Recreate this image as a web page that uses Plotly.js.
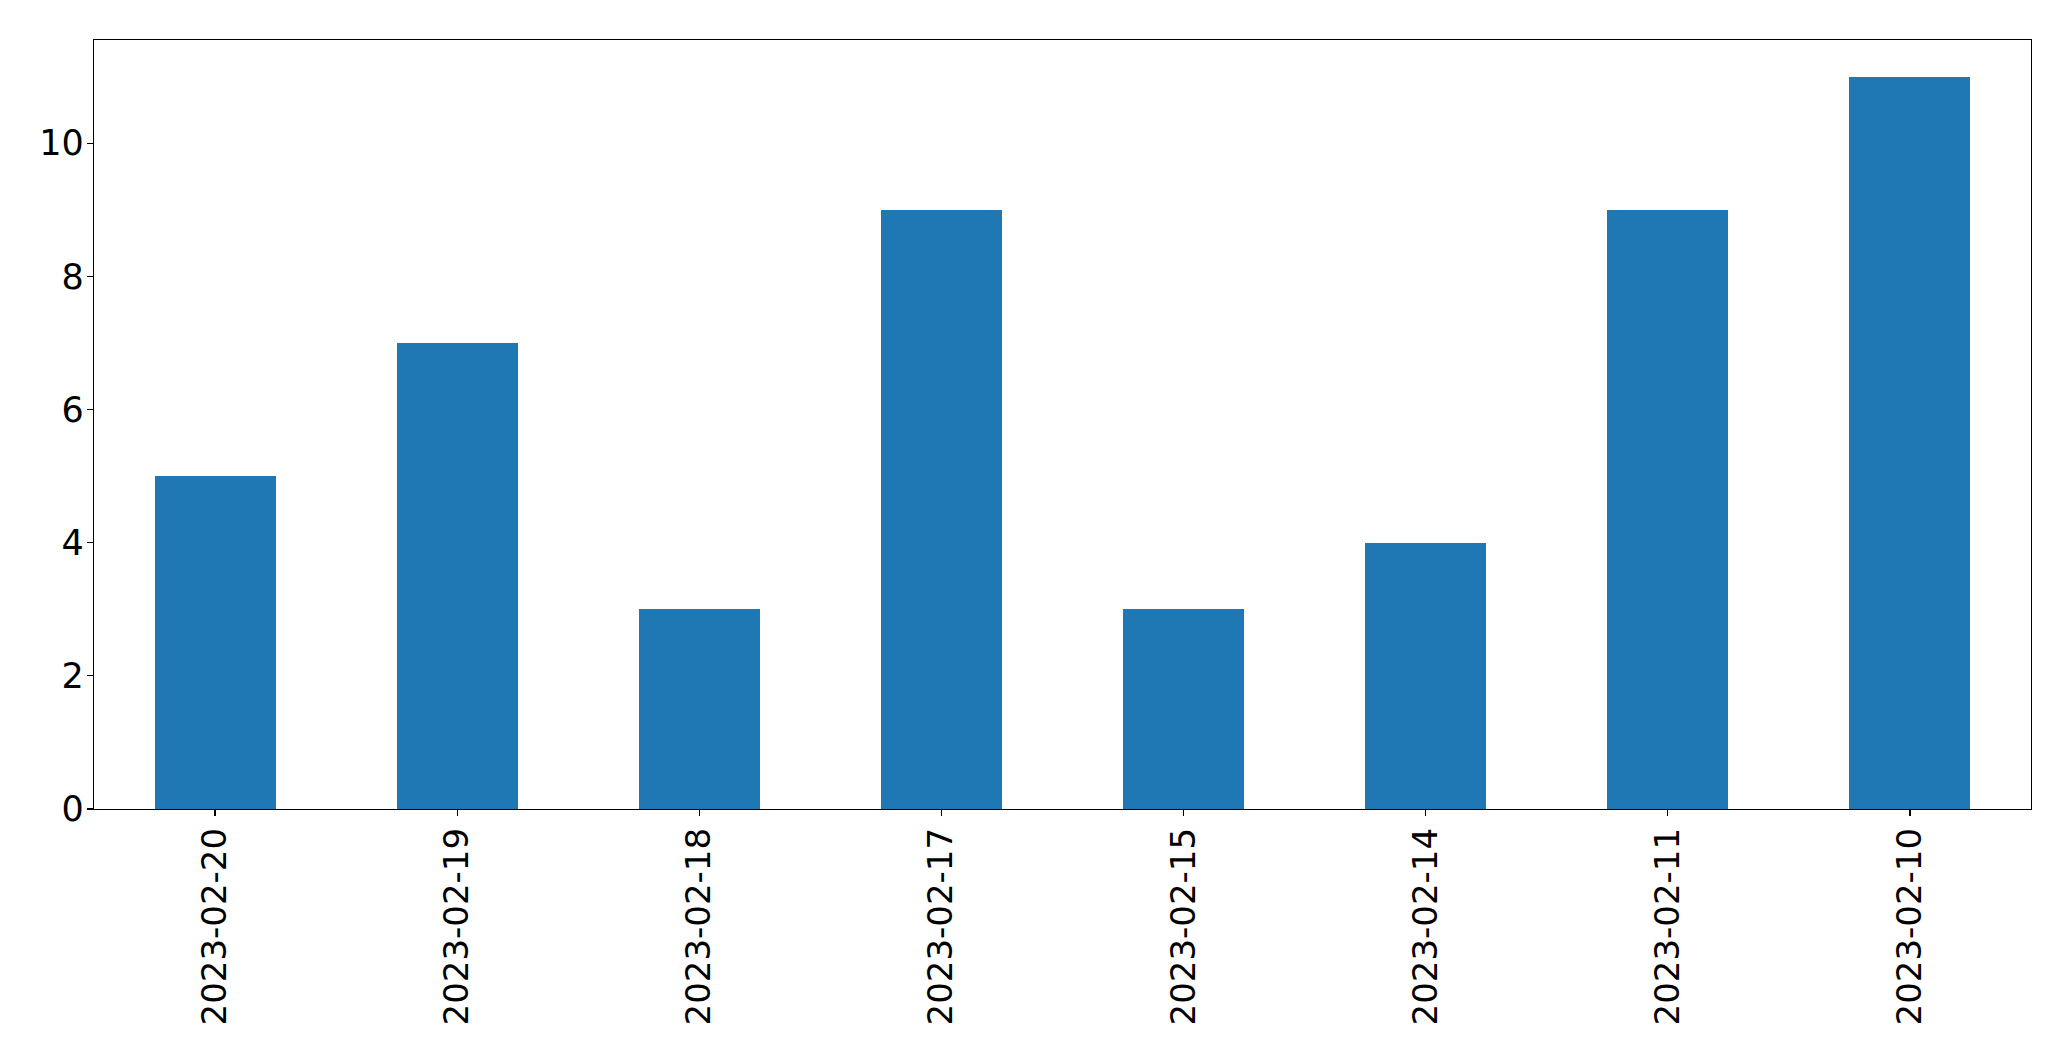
<!DOCTYPE html>
<html>
<head>
<meta charset="utf-8">
<script src="https://cdn.plot.ly/plotly-3.0.1.min.js"></script>
<style>html,body{margin:0;padding:0;background:#fff;}#chart{width:2071px;height:1061px;}</style>
</head>
<body>
<div id="chart"></div>
<script>
const categories = ["2023-02-20","2023-02-19","2023-02-18","2023-02-17","2023-02-15","2023-02-14","2023-02-11","2023-02-10"];
const values = [5, 7, 3, 9, 3, 4, 9, 11];
const yTicks = [0, 2, 4, 6, 8, 10];

const trace = {
  type: 'bar',
  x: categories,
  y: values,
  width: 0.5,
  marker: {color: '#1f77b4', line: {width: 0}},
  hoverinfo: 'x+y'
};

const xFont = {family: 'DejaVu Sans, sans-serif', size: 34, color: '#000'};
const yFont = {family: 'DejaVu Sans, sans-serif', size: 35, color: '#000'};

const layout = {
  width: 2071,
  height: 1061,
  margin: {l: 94, r: 40, t: 40, b: 252, pad: 0},
  paper_bgcolor: '#fff',
  plot_bgcolor: '#fff',
  showlegend: false,
  font: xFont,
  bargap: 0,
  xaxis: {
    type: 'category',
    range: [-0.5, 7.5],
    tickangle: -90,
    ticks: 'outside',
    ticklen: 6,
    tickwidth: 1.3,
    tickcolor: '#000',
    showline: true,
    linecolor: '#000',
    linewidth: 1.3,
    mirror: true,
    showgrid: false,
    zeroline: false,
    tickfont: xFont,
    ticklabelstandoff: -2,
    automargin: false
  },
  yaxis: {
    range: [0, 11.55],
    tickvals: yTicks,
    ticktext: yTicks.map(String),
    ticks: 'outside',
    ticklen: 6,
    tickwidth: 1.3,
    tickcolor: '#000',
    showline: true,
    linecolor: '#000',
    linewidth: 1.3,
    mirror: true,
    showgrid: false,
    zeroline: false,
    tickfont: yFont,
    ticklabelstandoff: -4,
    automargin: false
  }
};

Plotly.newPlot('chart', [trace], layout, {displayModeBar: false, staticPlot: true});
</script>
</body>
</html>
